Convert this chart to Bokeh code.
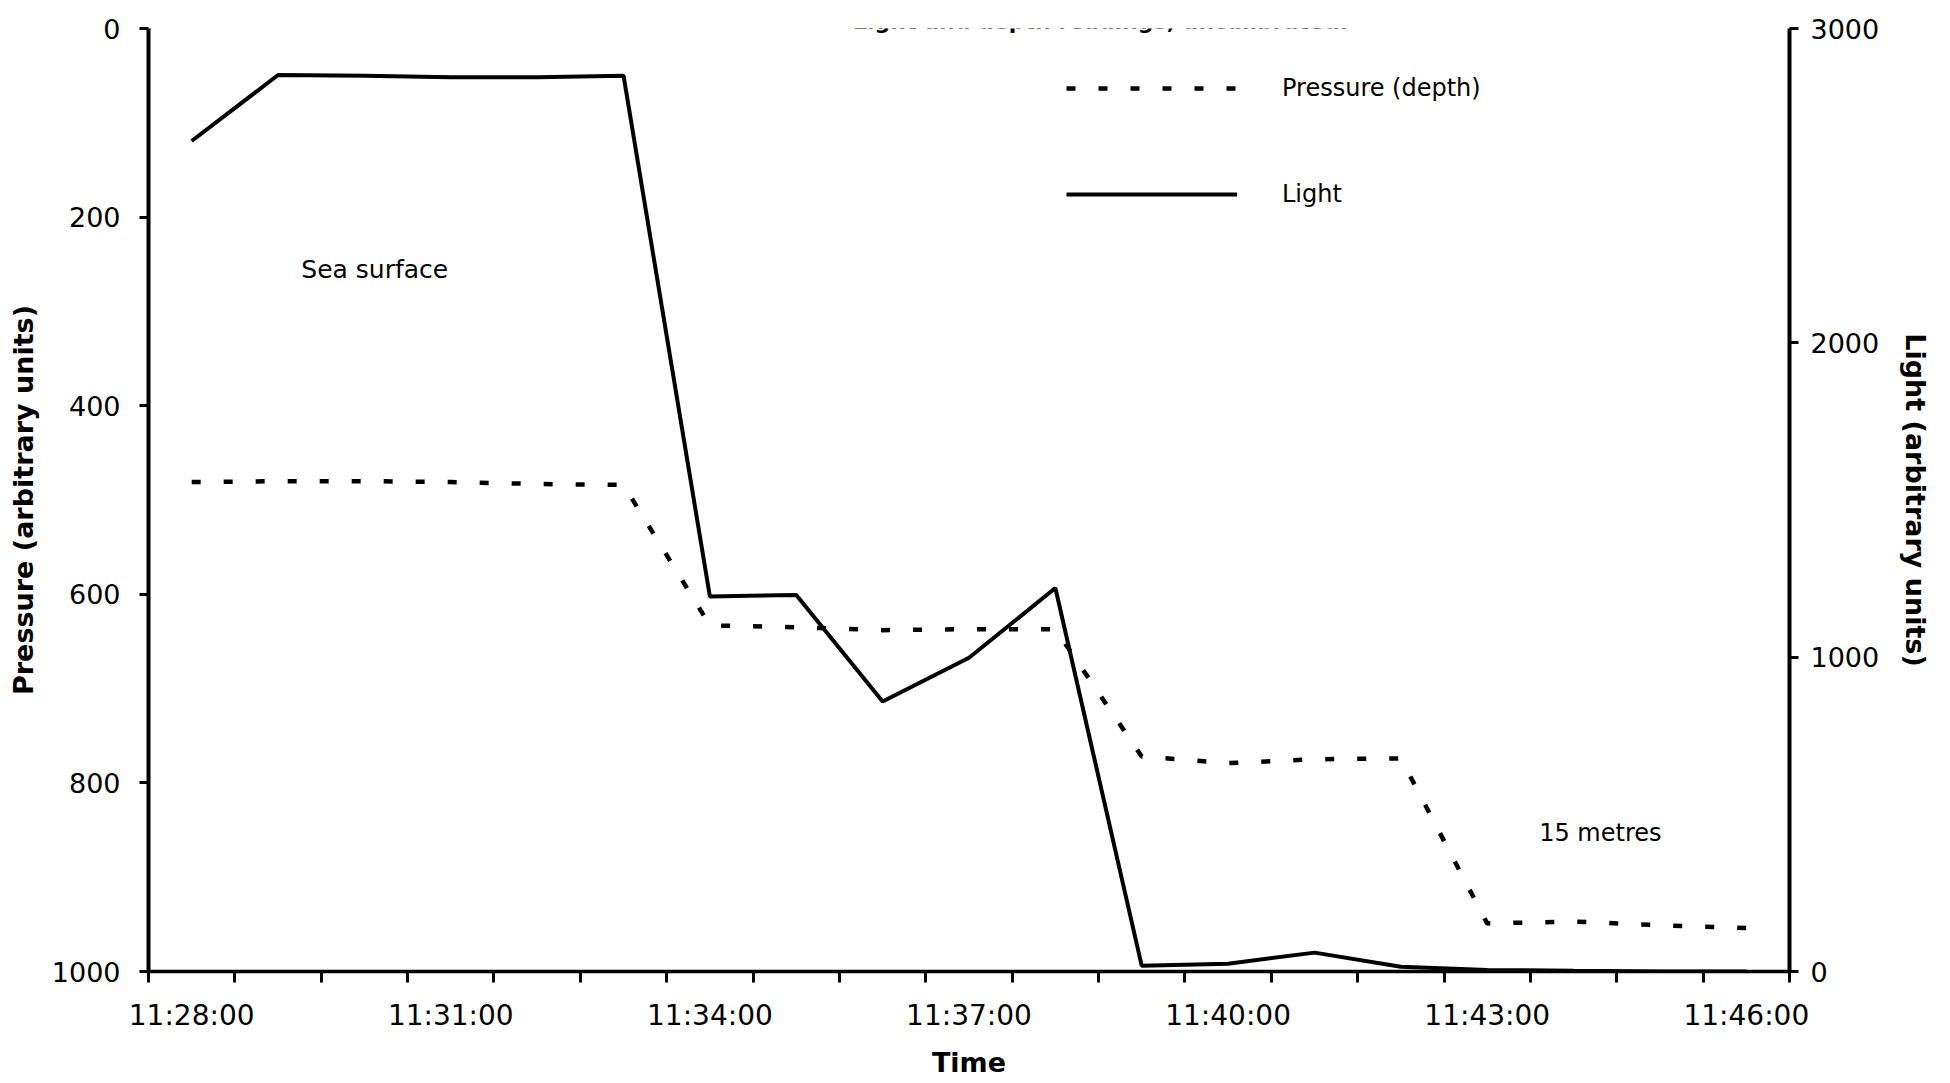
from bokeh.plotting import figure
from bokeh.models import Range1d, LinearAxis, FixedTicker, Label, Legend, LegendItem
from bokeh.embed import file_html
from bokeh.resources import INLINE
import numpy as np

# ---- data ----
times = ["11:28:00", "11:29:00", "11:30:00", "11:31:00", "11:32:00", "11:33:00",
         "11:34:00", "11:35:00", "11:36:00", "11:37:00", "11:38:00", "11:39:00",
         "11:40:00", "11:41:00", "11:42:00", "11:43:00", "11:44:00", "11:45:00",
         "11:46:00"]
pressure = [481, 480, 480, 481, 483, 484, 633, 635, 638, 637, 637, 772, 779, 775,
            774, 949, 947, 951, 954]
light = [2642, 2852, 2850, 2845, 2845, 2850, 1193, 1198, 859, 998, 1220, 18, 25, 60,
         15, 5, 2, 0, 0]
pressure_ticks = [0, 200, 400, 600, 800, 1000]
light_ticks = [0, 1000, 2000, 3000]

title_text = "Light and depth readings, uncalibrated."
FONT = "DejaVu Sans"

W, H = 1946, 1080
FL, FR, FT, FB = 148, 1789, 28, 972   # frame edges in page pixels

n = len(times)
x = np.arange(n) + 0.5          # category centres
label_pos = [float(v) for v in x[::3]]
label_txt = times[::3]

p = figure(width=W, height=H, output_backend="svg", toolbar_location=None,
           x_range=Range1d(0, n), y_range=Range1d(1000, 0),
           min_border_left=FL, min_border_right=W - FR, min_border_top=FT,
           min_border_bottom=H - FB)
p.outline_line_color = None
p.grid.visible = False
p.background_fill_color = "white"
p.border_fill_color = "white"

# ---- x axis (category style: ticks between categories) ----
xa = p.xaxis[0]
xa.ticker = FixedTicker(ticks=label_pos, minor_ticks=list(range(0, n + 1)))
xa.major_label_overrides = {k: v for k, v in zip(label_pos, label_txt)}
xa.major_tick_out = 0
xa.major_tick_in = 0
xa.minor_tick_out = 11
xa.minor_tick_in = 0
xa.minor_tick_line_width = 3
xa.minor_tick_line_color = "black"
xa.axis_line_width = 3.5
xa.axis_line_color = "black"
xa.major_label_text_font = FONT
xa.major_label_text_font_size = "28px"
xa.major_label_text_color = "black"
xa.major_label_standoff = 16
xa.axis_label = "Time"
xa.axis_label_text_font = FONT
xa.axis_label_text_font_style = "bold"
xa.axis_label_text_font_size = "27px"
xa.axis_label_text_color = "black"
xa.axis_label_standoff = 12

# ---- left axis: pressure (reversed) ----
ya = p.yaxis[0]
ya.ticker = FixedTicker(ticks=pressure_ticks)
ya.major_tick_out = 9
ya.major_tick_in = 0
ya.major_tick_line_width = 3
ya.major_tick_line_color = "black"
ya.minor_tick_line_color = None
ya.axis_line_width = 4
ya.axis_line_color = "black"
ya.major_label_text_font = FONT
ya.major_label_text_font_size = "27px"
ya.major_label_text_color = "black"
ya.major_label_standoff = 19
ya.axis_label = "Pressure (arbitrary units)"
ya.axis_label_text_font = FONT
ya.axis_label_text_font_style = "bold"
ya.axis_label_text_font_size = "27px"
ya.axis_label_text_color = "black"
ya.axis_label_standoff = 10

# ---- right axis: light ----
p.extra_y_ranges = {"light": Range1d(0, 3000)}
ra = LinearAxis(y_range_name="light", ticker=FixedTicker(ticks=light_ticks))
ra.major_tick_out = 9
ra.major_tick_in = 0
ra.major_tick_line_width = 3
ra.major_tick_line_color = "black"
ra.minor_tick_line_color = None
ra.axis_line_width = 4
ra.axis_line_color = "black"
ra.major_label_text_font = FONT
ra.major_label_text_font_size = "27px"
ra.major_label_text_color = "black"
ra.major_label_standoff = 12
ra.axis_label = "Light (arbitrary units)"
ra.axis_label_orientation = "vertical"       # reads bottom-to-top, centred
ra.axis_label_text_font = FONT
ra.axis_label_text_font_style = "bold"
ra.axis_label_text_font_size = "27px"
ra.axis_label_text_color = "black"
ra.axis_label_standoff = 18
p.add_layout(ra, "right")

# ---- series ----
r_p = p.line(x, pressure, line_color="black", line_width=4.5, line_dash="9 23")
r_l = p.line(x, light, y_range_name="light", line_color="black", line_width=4)

legend = Legend(items=[LegendItem(label="Pressure (depth)", renderers=[r_p]),
                       LegendItem(label="Light", renderers=[r_l])],
                location=(918, 762), orientation="vertical",
                glyph_width=171, glyph_height=30, label_height=30,
                spacing=76, label_standoff=45, padding=0, margin=0,
                border_line_color=None, background_fill_alpha=0,
                label_text_font=FONT, label_text_font_size="24px",
                label_text_color="black")
p.add_layout(legend)

# ---- annotations ----
p.add_layout(Label(x=2.62, y=256, text="Sea surface", text_align="center",
                   text_baseline="middle", text_font=FONT, text_font_size="25px",
                   text_color="black"))
p.add_layout(Label(x=16.81, y=853, text="15 metres", text_align="center",
                   text_baseline="middle", text_font=FONT, text_font_size="24px",
                   text_color="black"))
p.add_layout(Label(x=1100 - FL, y=FB - 22, x_units="screen", y_units="screen",
                   text=title_text, text_align="center", text_baseline="alphabetic",
                   text_font=FONT, text_font_style="bold", text_font_size="22px",
                   text_color="black"))

open("out.html", "w").write(file_html(p, INLINE))
